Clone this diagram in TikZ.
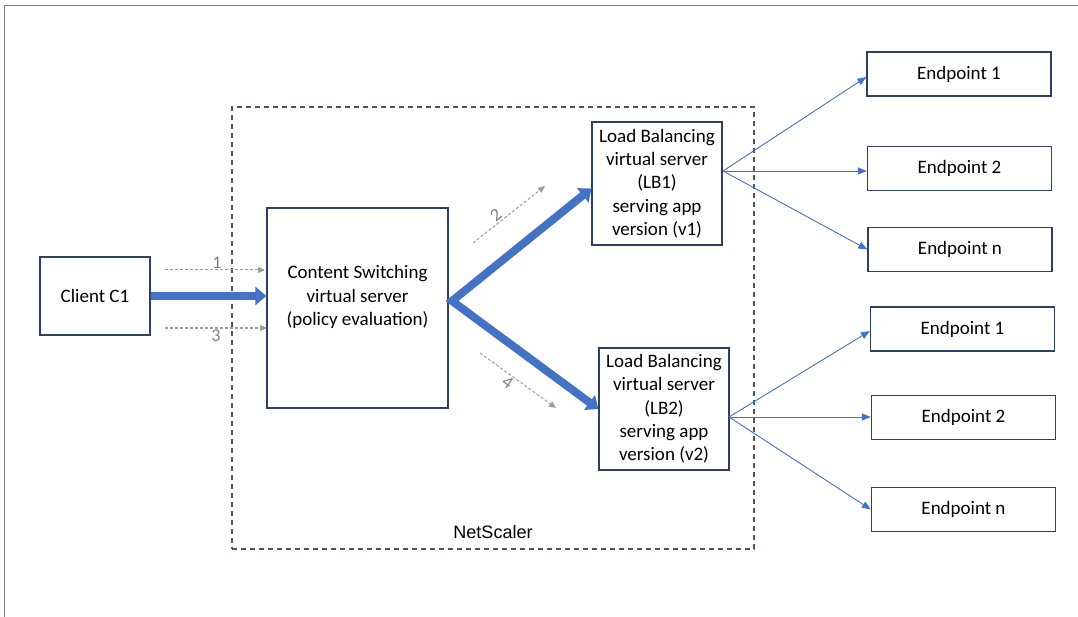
\documentclass[tikz,border=0pt]{standalone}
\usepackage{fontspec}
\setmainfont{Carlito}
\newfontfamily\nsArial{Liberation Sans}
\usetikzlibrary{positioning,arrows.meta,calc}
\definecolor{nsframe}{HTML}{2F3F63}
\definecolor{nsdash}{HTML}{4A5668}
\definecolor{nsblue}{HTML}{4472C4}
\definecolor{nsgrey}{HTML}{9C9C9C}
\definecolor{nsnumcol}{HTML}{7F7F7F}
\tikzset{
  nsbox/.style={draw=nsframe, line width=1.3pt, fill=white, align=center,
                inner sep=2pt, font=\fontsize{19}{23.3}\selectfont},
  nstext/.style={align=center, inner sep=0pt, font=\fontsize{19}{23.3}\selectfont},
  nsep/.style={nsbox, minimum width=184pt, minimum height=44pt},
  nslb/.style={nsbox, minimum width=130pt, minimum height=123pt},
  nsgroup/.style={draw=nsdash, line width=1.3pt, dash pattern=on 5pt off 4pt},
  nsbig/.style={draw=nsblue, line width=8pt, -{Triangle[length=11pt,width=18pt]}},
  nsfan/.style={draw=nsblue, line width=0.9pt, -{Triangle[length=9pt,width=7pt]}},
  nsstep/.style={draw=nsgrey, line width=1pt, dash pattern=on 3pt off 2pt,
                 -{Triangle[length=7pt,width=6pt]}},
  nsnum/.style={font=\fontsize{18}{20}\selectfont, text=nsnumcol, inner sep=1pt},
}

\begin{document}
\begin{tikzpicture}[x=1pt, y=-1pt]
  \useasboundingbox (0,0) rectangle (1078,617);
  \draw[nsgrey!80!black, line width=1.2pt] (4.5,617) -- (4.5,5.5) -- (1078,5.5);

  % NetScaler appliance
  \node[nsgroup, minimum width=522pt, minimum height=442pt] (NS) at (493,328) {};
  \node[font=\nsArial\fontsize{18}{20}\selectfont, inner sep=0pt] (NSlab) at (493,532) {NetScaler};

  \node[nsbox, minimum width=110pt, minimum height=78pt] (C1) at (95,296) {Client C1};
  \node[nsbox, minimum width=181pt, minimum height=200pt,
        label={[nstext, yshift=11pt]center:{Content Switching\\virtual server\\(policy evaluation)}}] (CS) at (357.5,308) {};
  \node[nslb] (LB1) at (657,183.5) {Load Balancing\\virtual server\\(LB1)\\serving app\\version (v1)};
  \node[nslb, minimum height=122pt] (LB2) at (664,409) {Load Balancing\\virtual server\\(LB2)\\serving app\\version (v2)};

  \node[nsep] (EP1a) at (959,74) {Endpoint 1};
  \node[nsep] (EP2a) at (959.5,168.5) {Endpoint 2};
  \node[nsep] (EPna) at (960,249.5) {Endpoint n};
  \node[nsep] (EP1b) at (962.5,329) {Endpoint 1};
  \node[nsep] (EP2b) at (963.5,417.5) {Endpoint 2};
  \node[nsep] (EPnb) at (963.5,509.5) {Endpoint n};

  \coordinate (split) at (452,301);
  \coordinate (lb1out) at (723,171);
  \coordinate (lb2out) at (729,417);

  % request flow
  \draw[nsbig] (C1.east) -- (C1.east -| CS.west);
  \draw[nsbig, {Triangle[length=11pt,width=18pt]}-{Triangle[length=11pt,width=18pt]}]
    ([yshift=-5pt]LB1.west) -- (split) -- (LB2.west);

  % numbered steps
  \coordinate (s1a) at (165,270); \coordinate (s1b) at (265,270);
  \coordinate (s3a) at (165,328); \coordinate (s3b) at (267,328);
  \coordinate (s2a) at (473,243); \coordinate (s2b) at (545,186);
  \coordinate (s4a) at (480,353); \coordinate (s4b) at (556,408);
  \draw[nsstep] (s1a) -- node[nsnum, pos=0.52, above]{1} (s1b);
  \draw[nsstep] (s3a) -- node[nsnum, pos=0.5, below]{3} (s3b);
  \draw[nsstep] (s2a) -- node[nsnum, pos=0.38, sloped, above]{2} (s2b);
  \draw[nsstep] (s4a) -- node[nsnum, pos=0.42, sloped, below]{4} (s4b);

  % fan-out to endpoints
  \draw[nsfan] (lb1out) -- ([yshift=-3pt]EP1a.west);
  \draw[nsfan] (lb1out) -- (lb1out -| EP2a.west);
  \draw[nsfan] (lb1out) -- (EPna.west);
  \draw[nsfan] (lb2out) -- ([yshift=-2pt]EP1b.west);
  \draw[nsfan] (lb2out) -- (lb2out -| EP2b.west);
  \draw[nsfan] (lb2out) -- (EPnb.west);
\end{tikzpicture}
\end{document}
